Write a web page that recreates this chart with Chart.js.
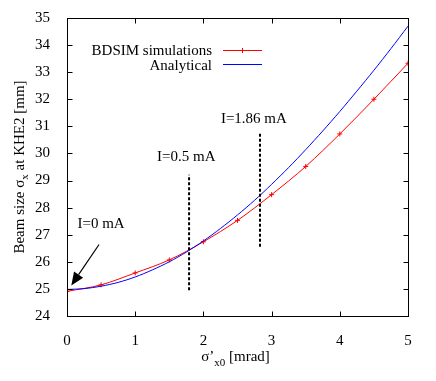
<!DOCTYPE html>
<html>
<head>
<meta charset="utf-8">
<script src="https://cdn.jsdelivr.net/npm/chart.js@4"></script>
<style>
  html, body { margin: 0; padding: 0; background: #fff; }
  #wrap { width: 436px; height: 381px; }
</style>
</head>
<body>
<div id="wrap"><canvas id="chart"></canvas></div>
<script>
// data
const simLabel = 'BDSIM simulations';
const simX = [0, 0.5, 1, 1.5, 2, 2.5, 3, 3.5, 4, 4.5, 5];
const simY = [24.91, 25.15, 25.59, 26.07, 26.74, 27.53, 28.48, 29.52, 30.72, 32.0, 33.33];

const anaLabel = 'Analytical';
const anaX = [0, 0.25, 0.5, 0.75, 1, 1.25, 1.5, 1.75, 2, 2.25, 2.5, 2.75, 3, 3.25, 3.5, 3.75, 4, 4.25, 4.5, 4.75, 5];
const anaY = [24.98, 25.01, 25.10, 25.24, 25.44, 25.70, 26.00, 26.36, 26.77, 27.23, 27.73, 28.27, 28.86, 29.48, 30.14, 30.83, 31.55, 32.30, 33.07, 33.87, 34.70];

const xTicks = [0, 1, 2, 3, 4, 5];
const yTicks = [24, 25, 26, 27, 28, 29, 30, 31, 32, 33, 34, 35];

// current markers: x position, bottom and top of dashed line
const markX = [1.79, 2.83];
const markLow = [24.95, 26.56];
const markHigh = [29.21, 30.80];

// text labels: text, x, y (cap centre, data units)
const noteText = ['I=0 mA', 'I=0.5 mA', 'I=1.86 mA'];
const noteX = [0.50, 1.75, 2.74];
const noteY = [27.45, 29.89, 31.31];

// arrow from tail to tip
const arrowFrom = [0.47, 26.64];
const arrowTo = [0.063, 25.13];

const FONT = '"Liberation Serif", "Times New Roman", serif';

const pts = (xs, ys) => xs.map((x, i) => ({ x: x, y: ys[i] }));

const datasets = [
  {
    label: simLabel,
    data: pts(simX, simY),
    borderColor: '#ff0000',
    backgroundColor: '#ff0000',
    borderWidth: 1,
    pointStyle: 'cross',
    pointRadius: 2.5,
    pointBorderWidth: 1,
    cubicInterpolationMode: 'monotone',
    order: 2
  },
  {
    label: anaLabel,
    data: pts(anaX, anaY),
    borderColor: '#0000ff',
    borderWidth: 1,
    pointRadius: 0,
    tension: 0.3,
    order: 1
  }
];
markX.forEach((x, i) => {
  datasets.push({
    label: 'mark' + i,
    data: [{ x: x, y: markLow[i] }, { x: x, y: markHigh[i] }],
    borderColor: '#000',
    borderWidth: 2,
    borderDash: [3, 2],
    pointRadius: 0,
    order: 0
  });
});

function drawSegments(ctx, segs, x, y, align) {
  // segs: [text, size, dy]
  let total = 0;
  segs.forEach(s => { ctx.font = s[1] + 'px ' + FONT; total += ctx.measureText(s[0]).width; });
  let cx = align === 'center' ? x - total / 2 : x;
  segs.forEach(s => {
    ctx.font = s[1] + 'px ' + FONT;
    ctx.fillText(s[0], cx, y + s[2]);
    cx += ctx.measureText(s[0]).width;
  });
}

const decor = {
  id: 'decor',
  afterDraw(chart) {
    const ctx = chart.ctx;
    const a = chart.chartArea;
    const xs = chart.scales.x, ys = chart.scales.y;
    ctx.save();

    // frame
    ctx.strokeStyle = '#000';
    ctx.lineWidth = 1;
    const L = Math.round(a.left) + 0.5, R = Math.round(a.right) + 0.5;
    const T = Math.round(a.top) + 0.5, B = Math.round(a.bottom) + 0.5;
    ctx.strokeRect(L, T, R - L, B - T);

    // inward ticks, mirrored
    ctx.beginPath();
    xTicks.forEach(v => {
      const px = Math.round(xs.getPixelForValue(v)) + 0.5;
      ctx.moveTo(px, B); ctx.lineTo(px, B - 5);
      ctx.moveTo(px, T); ctx.lineTo(px, T + 5);
    });
    yTicks.forEach(v => {
      const py = Math.round(ys.getPixelForValue(v)) + 0.5;
      ctx.moveTo(L, py); ctx.lineTo(L + 5, py);
      ctx.moveTo(R, py); ctx.lineTo(R - 5, py);
    });
    ctx.stroke();

    ctx.fillStyle = '#000';
    ctx.textBaseline = 'alphabetic';
    ctx.textAlign = 'left';

    // x title
    drawSegments(ctx, [['σ’', 15, 0], ['x0', 11, 5], [' [mrad]', 15, 0]], (a.left + a.right) / 2 - 2, 361, 'center');

    // y title
    ctx.save();
    ctx.translate(24, (a.top + a.bottom) / 2);
    ctx.rotate(-Math.PI / 2);
    drawSegments(ctx, [['Beam size σ', 15, 0], ['x', 11, 4], [' at KHE2 [mm]', 15, 0]], 0, 0, 'center');
    ctx.restore();

    // legend
    ctx.font = '15px ' + FONT;
    ctx.textAlign = 'right';
    ctx.fillText(simLabel, 212, 55);
    ctx.fillText(anaLabel, 212, 70);
    ctx.lineWidth = 1;
    ctx.strokeStyle = '#ff0000';
    ctx.beginPath(); ctx.moveTo(223, 50.5); ctx.lineTo(262, 50.5); ctx.stroke();
    ctx.beginPath(); ctx.moveTo(242.5, 48); ctx.lineTo(242.5, 53); ctx.moveTo(240, 50.5); ctx.lineTo(245, 50.5); ctx.stroke();
    ctx.strokeStyle = '#0000ff';
    ctx.beginPath(); ctx.moveTo(223, 64.5); ctx.lineTo(262, 64.5); ctx.stroke();

    // notes
    ctx.textAlign = 'center';
    noteText.forEach((t, i) => {
      ctx.fillText(t, xs.getPixelForValue(noteX[i]), ys.getPixelForValue(noteY[i]) + 5);
    });

    // arrow
    const x0 = xs.getPixelForValue(arrowFrom[0]), y0 = ys.getPixelForValue(arrowFrom[1]);
    const x1 = xs.getPixelForValue(arrowTo[0]), y1 = ys.getPixelForValue(arrowTo[1]);
    const ang = Math.atan2(y1 - y0, x1 - x0);
    const hl = 13, hw = 5.5;
    const bx = x1 - hl * Math.cos(ang), by = y1 - hl * Math.sin(ang);
    ctx.strokeStyle = '#000';
    ctx.lineWidth = 1.2;
    ctx.beginPath(); ctx.moveTo(x0, y0); ctx.lineTo(bx, by); ctx.stroke();
    ctx.beginPath();
    ctx.moveTo(x1, y1);
    ctx.lineTo(bx + hw * Math.sin(ang), by - hw * Math.cos(ang));
    ctx.lineTo(bx - hw * Math.sin(ang), by + hw * Math.cos(ang));
    ctx.closePath();
    ctx.fill();

    ctx.restore();
  }
};

new Chart(document.getElementById('chart'), {
  type: 'line',
  data: { datasets: datasets },
  options: {
    responsive: true,
    maintainAspectRatio: false,
    animation: false,
    layout: { padding: { left: 0, top: 14, right: 28, bottom: 0 } },
    plugins: {
      legend: { display: false },
      tooltip: { enabled: false }
    },
    scales: {
      x: {
        type: 'linear',
        min: 0,
        max: 5,
        afterBuildTicks: s => { s.ticks = xTicks.map(v => ({ value: v })); },
        afterFit: s => { s.height = 65; },
        grid: { display: false },
        border: { display: false },
        ticks: { color: '#000', padding: 8, font: { family: FONT, size: 15 }, maxRotation: 0 }
      },
      y: {
        type: 'linear',
        min: 24,
        max: 35,
        afterBuildTicks: s => { s.ticks = yTicks.map(v => ({ value: v })); },
        afterFit: s => { s.width = 67; },
        grid: { display: false },
        border: { display: false },
        ticks: { color: '#000', padding: 9, font: { family: FONT, size: 15 } }
      }
    }
  },
  plugins: [decor]
});
</script>
</body>
</html>
